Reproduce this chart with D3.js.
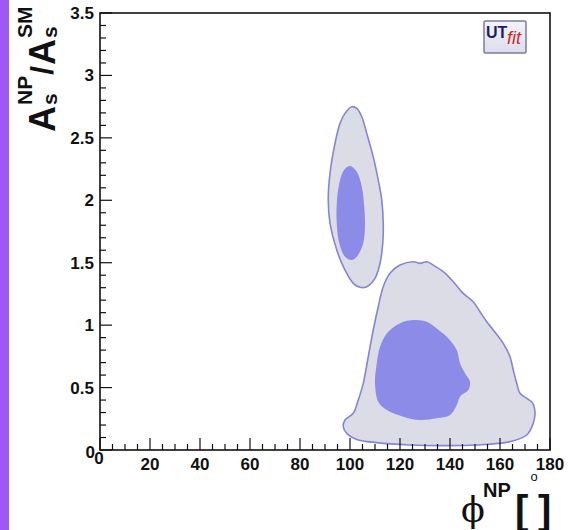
<!DOCTYPE html>
<html><head><meta charset="utf-8">
<script src="https://cdn.jsdelivr.net/npm/d3@7"></script>
<style>
html,body{margin:0;padding:0;background:#fff;}
svg{display:block;}
</style></head>
<body>
<svg id="c" width="569" height="530"></svg>
<script>
// ---- data (phi in degrees, A = A_s^NP / A_s^SM) ----
const xTickValues = [0, 20, 40, 60, 80, 100, 120, 140, 160, 180];
const xTickLabels = ["0", "20", "40", "60", "80", "100", "120", "140", "160", "180"];
const yTickValues = [0, 0.5, 1, 1.5, 2, 2.5, 3, 3.5];
const yTickLabels = ["0", "0.5", "1", "1.5", "2", "2.5", "3", "3.5"];

// 95% region, upper island
const outerUpper = [
  [100.7,2.749],[102.7,2.736],[104.7,2.669],[106.7,2.536],[109.3,2.348],[111.3,2.162],
  [112.7,2.002],[113.3,1.815],[113.1,1.655],[112.0,1.495],[110.0,1.375],[106.7,1.308],
  [104.0,1.303],[101.3,1.335],[98.0,1.441],[94.7,1.601],[92.0,1.815],[91.3,2.002],
  [92.0,2.215],[94.0,2.456],[96.0,2.616],[98.0,2.696]
];
// 68% region, upper island
const innerUpper = [
  [100.0,2.274],[102.7,2.228],[104.7,2.108],[105.7,1.948],[106.0,1.788],[105.1,1.641],
  [102.7,1.548],[100.7,1.521],[98.0,1.548],[95.7,1.655],[94.7,1.815],[94.7,1.975],
  [95.7,2.135],[97.6,2.242]
];
// 95% region, lower island
const outerLower = [
  [125.3,1.508],[128.0,1.495],[130.7,1.508],[133.3,1.481],[137.3,1.428],[141.3,1.348],
  [145.3,1.254],[149.3,1.187],[152.0,1.107],[154.7,1.027],[157.3,0.961],[161.3,0.854],
  [164.0,0.747],[165.3,0.641],[166.7,0.534],[168.0,0.454],[170.7,0.414],[173.1,0.374],
  [174.0,0.294],[173.3,0.214],[170.7,0.120],[164.0,0.067],[150.7,0.040],[137.3,0.035],
  [124.0,0.040],[110.7,0.059],[102.7,0.085],[98.7,0.133],[97.3,0.187],[98.0,0.240],
  [101.3,0.294],[103.3,0.400],[105.3,0.534],[107.3,0.747],[109.3,0.961],[111.3,1.147],
  [113.3,1.308],[116.0,1.415],[120.0,1.481]
];
// 68% region, lower island
const innerLower = [
  [126.7,1.041],[130.7,1.027],[134.7,0.974],[138.7,0.907],[142.7,0.801],[144.0,0.694],
  [146.0,0.614],[148.0,0.547],[147.3,0.480],[144.0,0.427],[142.7,0.360],[140.0,0.280],
  [134.7,0.254],[128.0,0.240],[121.3,0.267],[114.7,0.320],[111.3,0.387],[110.0,0.534],
  [110.7,0.694],[112.0,0.827],[114.7,0.934],[118.7,1.001],[122.7,1.035]
];

// ---- layout ----
const svg = d3.select("#c");
const L = 100, R = 550, T = 13, B = 450;
const x = d3.scaleLinear().domain([0, 180]).range([L, R]);
const y = d3.scaleLinear().domain([0, 3.5]).range([B, T]);
const FONT = "'Liberation Sans', Arial, Helvetica, sans-serif";

// purple side bar
svg.append("rect").attr("x", 0).attr("y", 0).attr("width", 9).attr("height", 530).attr("fill", "#a058f4");

// contours
const line = d3.line().x(d => x(d[0])).y(d => y(d[1])).curve(d3.curveCatmullRomClosed.alpha(0.5));
const outerFill = "#dcdce7", innerFill = "#8c8ce8", edge = "#8585d6";
[outerUpper, outerLower].forEach(p => {
  svg.append("path").attr("d", line(p)).attr("fill", outerFill).attr("stroke", edge).attr("stroke-width", 1.6);
});
[innerUpper, innerLower].forEach(p => {
  svg.append("path").attr("d", line(p)).attr("fill", innerFill).attr("stroke", "none");
});

// frame
svg.append("rect").attr("x", L).attr("y", T).attr("width", R - L).attr("height", B - T)
  .attr("fill", "none").attr("stroke", "#111").attr("stroke-width", 1.6);

// x ticks (inside, upward)
const xMinor = d3.range(0, 181, 5);
svg.append("g").selectAll("line").data(xMinor).join("line")
  .attr("x1", d => x(d)).attr("x2", d => x(d))
  .attr("y1", B).attr("y2", d => B - (d % 20 === 0 ? 12 : 6))
  .attr("stroke", "#111").attr("stroke-width", 1.2);
// y ticks (inside, rightward)
const yMinor = d3.range(0, 36).map(i => i / 10);
svg.append("g").selectAll("line").data(yMinor).join("line")
  .attr("x1", L).attr("x2", (d, i) => L + (i % 5 === 0 ? 12 : 6))
  .attr("y1", d => y(d)).attr("y2", d => y(d))
  .attr("stroke", "#111").attr("stroke-width", 1.2);

// tick labels
svg.append("g").selectAll("text").data(xTickValues).join("text")
  .attr("x", (d, i) => x(d) - (i === 0 ? 1 : 0)).attr("y", (d, i) => i === 0 ? 464 : 470)
  .attr("text-anchor", "middle").attr("font-family", FONT).attr("font-weight", "bold")
  .attr("font-size", 17).attr("fill", "#111").text((d, i) => xTickLabels[i]);
svg.append("g").selectAll("text").data(yTickValues).join("text")
  .attr("x", (d, i) => i === 0 ? 95 : 94).attr("y", (d, i) => y(d) + (i === 0 ? 8 : 6))
  .attr("text-anchor", "end").attr("font-family", FONT).attr("font-weight", "bold")
  .attr("font-size", 17).attr("fill", "#111").text((d, i) => yTickLabels[i]);

// y-axis title: A_s^NP / A_s^SM (rotated)
const yt = svg.append("g").attr("transform", "translate(55,132) rotate(-90)")
  .attr("font-family", FONT).attr("font-weight", "bold").attr("fill", "#111");
function piece(txt, size, dx, dy) {
  const t = yt.append("text").attr("x", dx).attr("y", dy).attr("font-size", size).text(txt);
  return t.node().getComputedTextLength();
}
let cx = 0;
cx += piece("A", 36, cx, 0);
let w1 = piece("s", 21, cx + 1, 2);
let w2 = piece("NP", 21, cx + 1, -23);
cx += Math.max(w1, w2) + 2;
cx += piece("/", 32, cx, -2);
cx += 1;
cx += piece("A", 36, cx, 0);
w1 = piece("s", 21, cx + 1, 2);
w2 = piece("SM", 21, cx + 1, -23);

// x-axis title: phi_s^NP [ ^o ]
const xt = svg.append("g").attr("fill", "#111");
xt.append("text").attr("x", 461).attr("y", 522).attr("font-family", "'DejaVu Serif', 'Liberation Serif', serif")
  .attr("font-size", 35).text("\u03D5");
xt.append("text").attr("x", 483).attr("y", 497).attr("font-family", FONT).attr("font-weight", "bold")
  .attr("font-size", 20).text("NP");
xt.append("text").attr("x", 486).attr("y", 543).attr("font-family", FONT).attr("font-weight", "bold")
  .attr("font-size", 20).text("s");
xt.append("text").attr("x", 515).attr("y", 524).attr("font-family", FONT).attr("font-weight", "bold")
  .attr("font-size", 40).text("[");
xt.append("text").attr("x", 538).attr("y", 524).attr("font-family", FONT).attr("font-weight", "bold")
  .attr("font-size", 40).text("]");
xt.append("text").attr("x", 534).attr("y", 481).attr("text-anchor", "middle").attr("font-family", FONT)
  .attr("font-size", 13).text("o");

// UTfit logo
const lg = svg.append("g");
const grad = svg.append("defs").append("linearGradient").attr("id", "lgG").attr("x1", 0).attr("y1", 0).attr("x2", 0).attr("y2", 1);
grad.append("stop").attr("offset", "0%").attr("stop-color", "#f4f4fb");
grad.append("stop").attr("offset", "100%").attr("stop-color", "#dcdcec");
lg.append("rect").attr("x", 484).attr("y", 21).attr("width", 42).attr("height", 32).attr("rx", 1.5)
  .attr("fill", "url(#lgG)").attr("stroke", "#7c7ca0").attr("stroke-width", 1.5);
lg.append("text").attr("x", 486).attr("y", 38).attr("font-family", FONT).attr("font-weight", "bold")
  .attr("font-size", 16).attr("fill", "#1c1c66").text("UT");
lg.append("text").attr("x", 507).attr("y", 44).attr("font-family", FONT).attr("font-style", "italic")
  .attr("font-size", 18).attr("fill", "#c82a2a").text("fit");
</script>
</body></html>
